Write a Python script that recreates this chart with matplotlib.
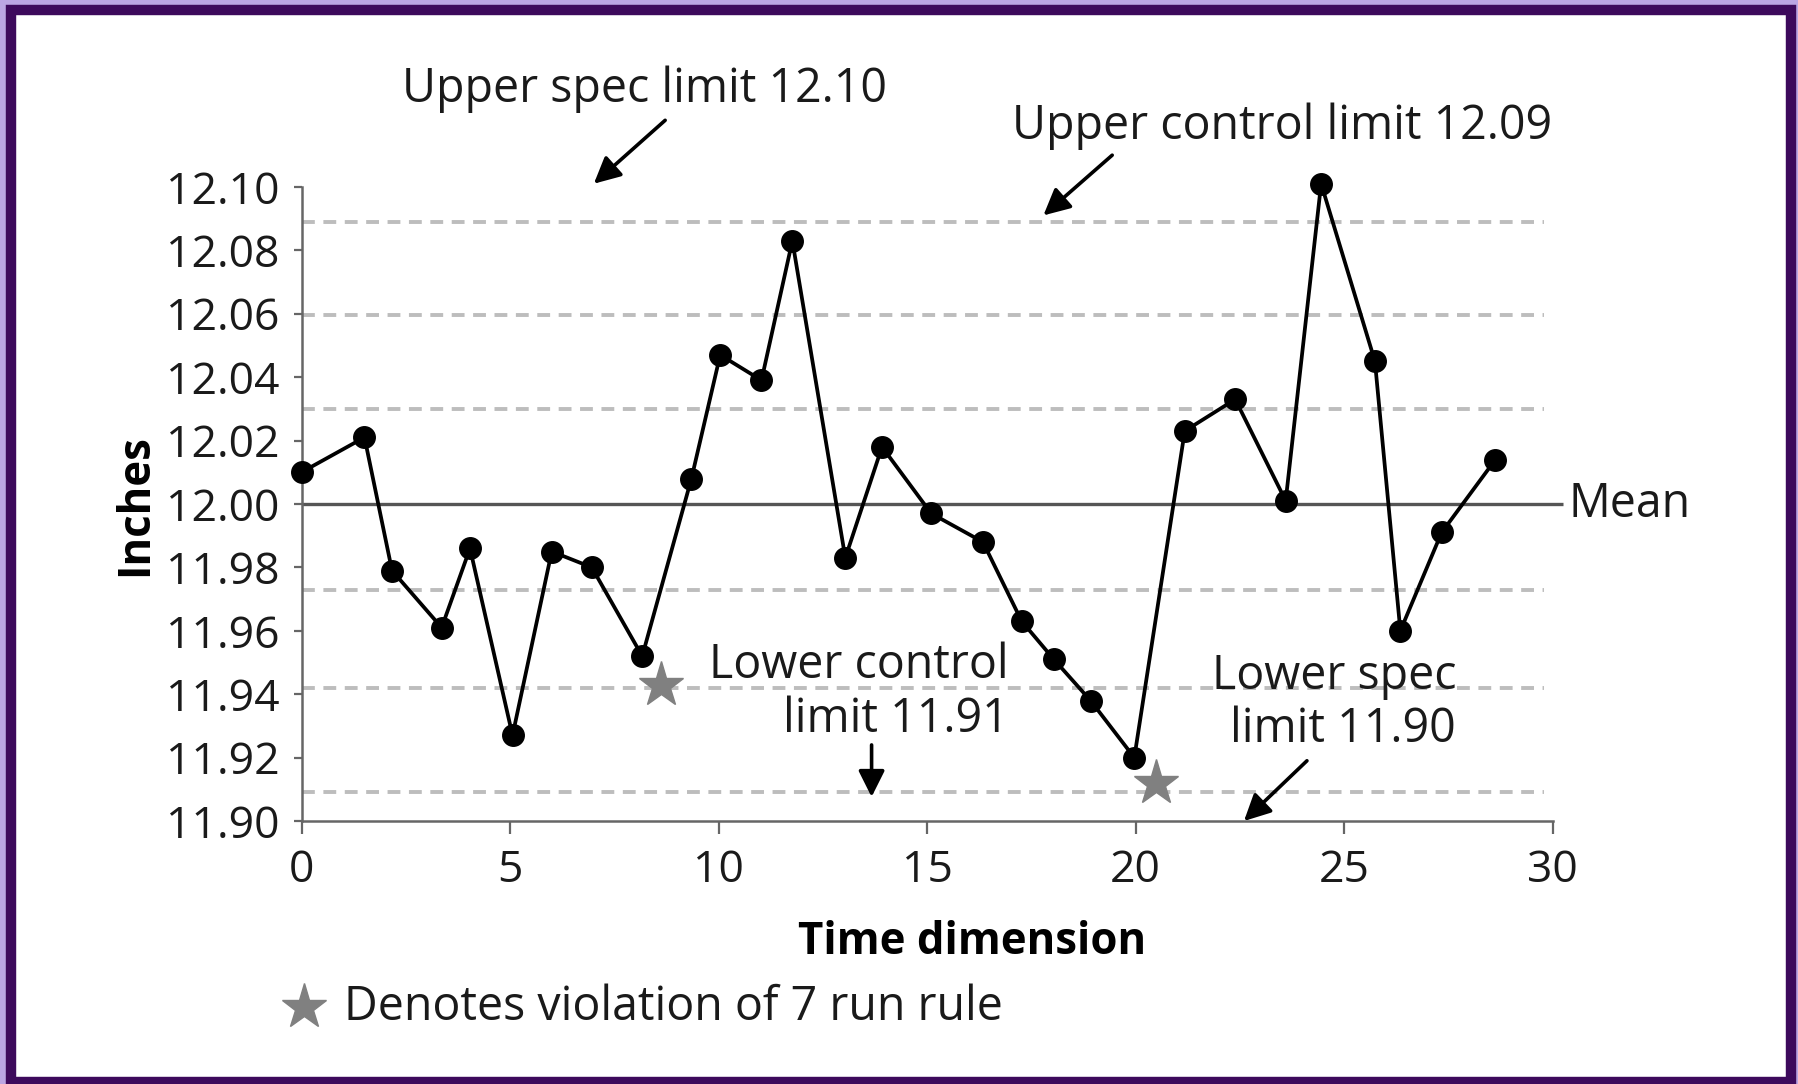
import numpy as np
import matplotlib.pyplot as plt
from matplotlib.patches import Rectangle

plt.rcParams['font.family'] = ['Open Sans', 'DejaVu Sans']

t = [0.0, 1.51, 2.17, 3.36, 4.04, 5.06, 6.0, 6.96, 8.17, 9.35, 10.04, 11.03, 11.77,
     13.04, 13.92, 15.10, 16.34, 17.27, 18.04, 18.92, 19.97, 21.18, 22.39, 23.6,
     24.45, 25.74, 26.35, 27.34, 28.63]
inches = [12.010, 12.021, 11.979, 11.961, 11.986, 11.927, 11.985, 11.980, 11.952,
          12.008, 12.047, 12.039, 12.083, 11.983, 12.018, 11.997, 11.988, 11.963,
          11.951, 11.938, 11.920, 12.023, 12.033, 12.001, 12.101, 12.045, 11.960,
          11.991, 12.014]

# run-rule violations
star_t = [8.61, 20.49]
star_inches = [11.943, 11.912]

mean = 12.00
zone_lines = [12.089, 12.0595, 12.0298, 11.973, 11.942, 11.909]

xticks = [0, 5, 10, 15, 20, 25, 30]
yticks = [11.90, 11.92, 11.94, 11.96, 11.98, 12.00, 12.02, 12.04, 12.06, 12.08, 12.10]

fig = plt.figure(figsize=(17.98, 10.84), dpi=100, facecolor='#bba6e3')
# purple frame
fig.patches.append(Rectangle((11/1798, 2/1084), (1791-11)/1798, (1074-2)/1084,
                             transform=fig.transFigure, facecolor='white',
                             edgecolor='#3d0a5c', linewidth=7.5, zorder=-10))

ax = fig.add_axes([0.1677, 0.2426, 0.8635-0.1677, 0.8276-0.2426])
ax.set_facecolor('none')

gray = '#666666'
ax.hlines(zone_lines, 0, 29.8, colors='#bdbdbd', linewidth=2.8,
          linestyles=[(0, (3.3, 2.2))], zorder=1)
ax.hlines(mean, 0, 30.25, colors='#555555', linewidth=2.4, clip_on=False, zorder=2)

ax.plot(t, inches, '-o', color='black', lw=2.7, ms=15.5, zorder=4, clip_on=False)
ax.plot(star_t, star_inches, '*', color='#808080', ms=34, mec='#808080', zorder=3, clip_on=False)

ax.set_xlim(0, 30)
ax.set_ylim(11.90, 12.10)
ax.set_xticks(xticks)
ax.set_yticks(yticks)
ax.set_yticklabels(['%.2f' % v for v in yticks])
for s in ['top', 'right']:
    ax.spines[s].set_visible(False)
for s in ['left', 'bottom']:
    ax.spines[s].set_color(gray)
    ax.spines[s].set_linewidth(1.8)
ax.tick_params(axis='y', length=6, width=1.6, color=gray, pad=10, labelsize=32, labelcolor='#1a1a1a')
ax.tick_params(axis='x', length=9, width=1.6, color=gray, pad=11, labelsize=32, labelcolor='#1a1a1a')

ax.set_ylabel('Inches', fontsize=31.5, fontweight='bold', va='center')
ax.yaxis.set_label_coords(-0.133, 0.499)
ax.set_xlabel('Time dimension', fontsize=31.5, fontweight='bold', va='center')
ax.xaxis.set_label_coords(0.536, -0.192)

fs = 33.5
ax.text(30.38, mean, 'Mean', fontsize=fs, va='center', ha='left', color='#1a1a1a')
ax.text(8.22, 12.1307, 'Upper spec limit 12.10', fontsize=fs, ha='center', va='center', color='#1a1a1a')
ax.text(23.51, 12.119, 'Upper control limit 12.09', fontsize=fs, ha='center', va='center', color='#1a1a1a')
ax.text(16.96, 11.9405, 'Lower control\nlimit 11.91', fontsize=fs, ha='right', va='center',
        multialignment='right', linespacing=1.18, color='#1a1a1a')
ax.text(27.69, 11.9372, 'Lower spec\nlimit 11.90', fontsize=fs, ha='right', va='center',
        multialignment='right', linespacing=1.15, color='#1a1a1a')

arrow = dict(arrowstyle='-|>', color='black', lw=2.6, mutation_scale=40, shrinkA=0, shrinkB=0)
ax.annotate('', xy=(7.01, 12.101), xytext=(8.72, 12.121), arrowprops=arrow, annotation_clip=False)
ax.annotate('', xy=(17.79, 12.091), xytext=(19.44, 12.110), arrowprops=arrow, annotation_clip=False)
ax.annotate('', xy=(13.67, 11.9076), xytext=(13.67, 11.924), arrowprops=arrow, annotation_clip=False)
ax.annotate('', xy=(22.60, 11.900), xytext=(24.11, 11.919), arrowprops=arrow, annotation_clip=False)

# key for the stars
ax.plot([0.169], [0.0712], '*', color='#808080', ms=34, transform=fig.transFigure, clip_on=False)
fig.text(0.1913, 0.0712, 'Denotes violation of 7 run rule', fontsize=fs, va='center', color='#1a1a1a')

fig.savefig('out.png', dpi=100, facecolor=fig.get_facecolor())
